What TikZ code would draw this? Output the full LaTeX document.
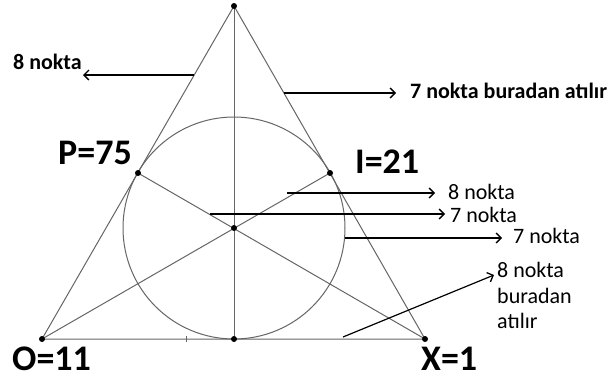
\documentclass[tikz,border=0pt]{standalone}
\usepackage{fontspec}
\setmainfont{Carlito}
\usetikzlibrary{arrows.meta}
\begin{document}
\begin{tikzpicture}[x=1pt,y=-1pt,
  geo/.style={draw=black!60,line width=1pt},
  pt/.style={circle,fill=black,inner sep=0pt,minimum size=6pt},
  arr/.style={draw=black,line width=1.2pt,-{Straight Barb[length=5pt,width=10pt,line width=1.3pt]}},
  big/.style={anchor=base west,inner sep=0pt,font=\fontsize{36}{40}\selectfont\bfseries},
  small/.style={anchor=base west,inner sep=0pt,font=\fontsize{22}{24}\selectfont},
  smallb/.style={small,font=\fontsize{22}{24}\selectfont\bfseries}]
\useasboundingbox (0,0) rectangle (610,381);
\fill[white] (0,0) rectangle (610,381);
% points
\coordinate (A) at (234,6);
\coordinate (O) at (42,339);
\coordinate (X) at (425,339);
\coordinate (M) at (234,339);
\coordinate (C) at (234,228);
\coordinate (P) at (138,173);
\coordinate (I) at (330,173);
% figure
\draw[geo] (A) -- (O) -- (X) -- cycle;
\draw[geo] (C) circle (111);
\draw[geo] (A) -- (M);
\draw[geo] (O) -- (I);
\draw[geo] (X) -- (P);
\draw[geo] (186,336) -- (186,342);
\foreach \p in {A,O,X,M,C,P,I} \node[pt] (d\p) at (\p) {};
% labels
\node[big] (lP) at (58,164) {P=75};
\node[big] (lI) at (355,173) {I=21};
\node[big] (lO) at (12,370) {O=11};
\node[big] (lX) at (421,370) {X=1};
% arrows and texts
\node[smallb] (t1) at (13,69) {8 nokta};
\coordinate (s1) at (194,75);
\coordinate (e1) at (83,75);
\draw[arr] (s1) -- (e1);
\node[smallb] (t2) at (410,98) {7 nokta buradan atılır};
\coordinate (s2) at (284,93);
\coordinate (e2) at (396,93);
\draw[arr] (s2) -- (e2);
\node[small] (t3) at (448,199) {8 nokta};
\coordinate (s3) at (287,193);
\coordinate (e3) at (435,193);
\draw[arr] (s3) -- (e3);
\node[small] (t4) at (450,222) {7 nokta};
\coordinate (s4) at (210,214);
\coordinate (e4) at (445,214);
\draw[arr] (s4) -- (e4);
\node[small] (t5) at (513,243) {7 nokta};
\coordinate (s5) at (345,238);
\coordinate (e5) at (502,238);
\draw[arr] (s5) -- (e5);
\node[small] (t6) at (497,277) {8 nokta};
\node[small] (t7) at (497,303) {buradan};
\node[small] (t8) at (497,328) {atılır};
\coordinate (s6) at (343,337);
\coordinate (e6) at (494,275);
\draw[arr] (s6) -- (e6);
\end{tikzpicture}
\end{document}
